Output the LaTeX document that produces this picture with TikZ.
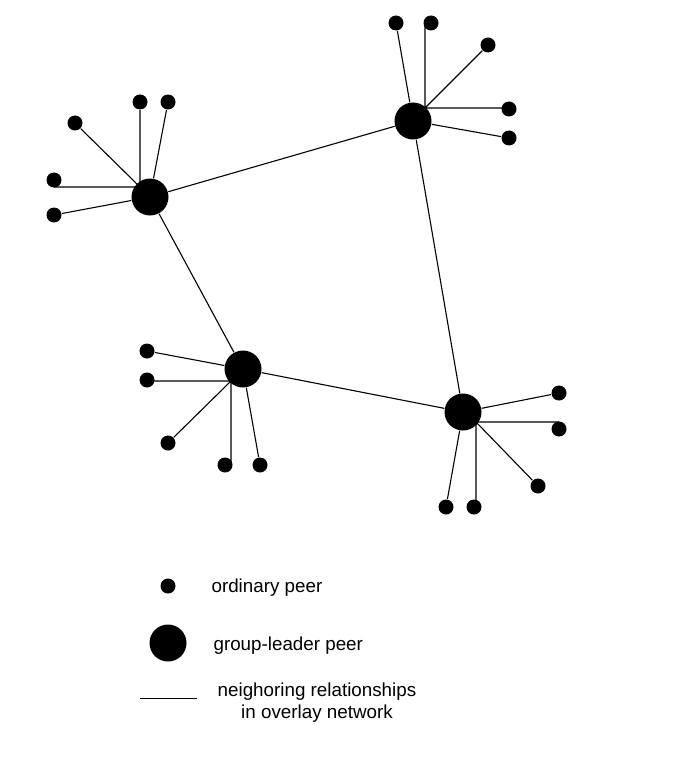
\documentclass[tikz,border=0pt]{standalone}
\usepackage{fontspec}
\setmainfont{Liberation Sans}
\usepackage{tikz}
\begin{document}
\begin{tikzpicture}[x=1pt,y=-1pt,line width=1.1pt,
  peer/.style={circle,fill=black,inner sep=0pt,minimum size=15pt},
  leader/.style={circle,fill=black,inner sep=0pt,minimum size=37pt},
  legtext/.style={inner sep=0pt,font=\fontsize{18.8}{22}\selectfont}]
        \useasboundingbox (0,0) rectangle (688,762);
        \node[leader] (tl) at (150,197) {};
        \node[leader] (tr) at (413,121) {};
        \node[leader] (bl) at (243,369) {};
        \node[leader] (br) at (463,412) {};
        \node[peer] (tla) at (140,102) {};
        \node[peer] (tlb) at (168,102) {};
        \node[peer] (tlc) at (75,123) {};
        \node[peer] (tld) at (54,180) {};
        \node[peer] (tle) at (54,215) {};
        \node[peer] (tra) at (396,23) {};
        \node[peer] (trb) at (431,23) {};
        \node[peer] (trc) at (488,45) {};
        \node[peer] (trd) at (509,109) {};
        \node[peer] (tre) at (509,138) {};
        \node[peer] (bla) at (147,351) {};
        \node[peer] (blb) at (147,380) {};
        \node[peer] (blc) at (168,443) {};
        \node[peer] (bld) at (225,465) {};
        \node[peer] (ble) at (260,465) {};
        \node[peer] (bra) at (559,393) {};
        \node[peer] (brb) at (559,429) {};
        \node[peer] (brc) at (538,486) {};
        \node[peer] (brd) at (474,507) {};
        \node[peer] (bre) at (446,507) {};
        \coordinate (tlj) at (140,187);
        \coordinate (trj) at (425,108);
        \coordinate (blj) at (231,381);
        \coordinate (brj) at (476,422);
        \draw (tl)--(tr) (tl)--(bl) (bl)--(br) (tr)--(br);
        \draw (tla)--(tlj) (tlc)--(tlj) (tld.center |- tlj)--(tlj) (tlb)--(tl) (tle)--(tl);
        \draw (trb.center -| trj)--(trj) (trc)--(trj) (trd.center |- trj)--(trj) (tra)--(tr) (tre)--(tr);
        \draw (blb.center |- blj)--(blj) (blc)--(blj) (bld.center -| blj)--(blj) (bla)--(bl) (ble)--(bl);
        \draw (brb.center |- brj)--(brj) (brc)--(brj) (brd.center -| brj)--(brj) (bra)--(br) (bre)--(br);
        \node[peer] (legpeer) at (168,586) {};
        \node[leader] (legleader) at (168,643) {};
        \coordinate (lega) at (140,698);
        \coordinate (legb) at (197,698);
        \draw[line width=.9pt] (lega)--(legb);
        \node[legtext,anchor=west] (txpeer) at (211,588) {ordinary peer};
        \node[legtext,anchor=west] (txleader) at (213,646) {group-leader peer};
        \node[legtext,anchor=north,align=center] (txlink) at (317,682) {neighoring relationships\\in overlay network};
      \end{tikzpicture}
\end{document}
